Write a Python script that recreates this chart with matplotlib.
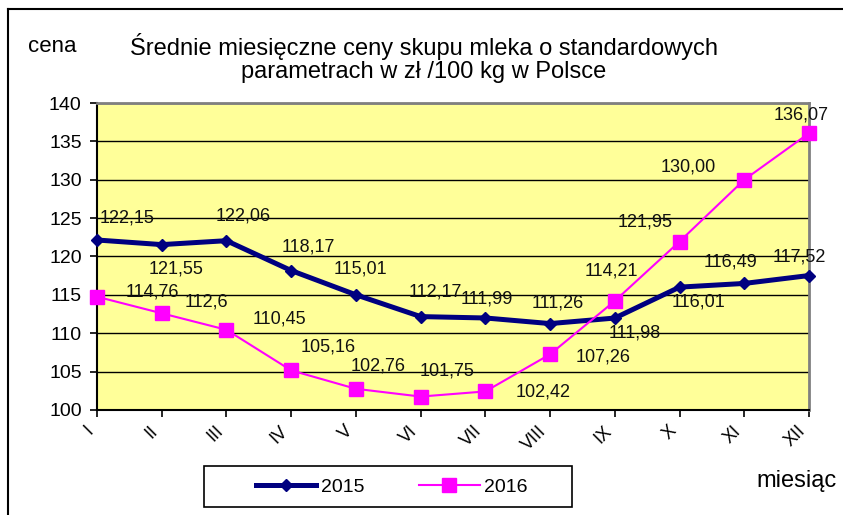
import matplotlib
matplotlib.use("Agg")
import matplotlib.pyplot as plt
from matplotlib.patches import Rectangle
from matplotlib.lines import Line2D

plt.rcParams['font.family'] = ['Liberation Sans', 'DejaVu Sans']

months = ["I", "II", "III", "IV", "V", "VI", "VII", "VIII", "IX", "X", "XI", "XII"]
y2015 = [122.15, 121.55, 122.06, 118.17, 115.01, 112.17, 111.99, 111.26, 111.98, 116.01, 116.49, 117.52]
y2016 = [114.76, 112.6, 110.45, 105.16, 102.76, 101.75, 102.42, 107.26, 114.21, 121.95, 130.00, 136.07]
labels2015 = ["122,15", "121,55", "122,06", "118,17", "115,01", "112,17", "111,99", "111,26", "111,98", "116,01", "116,49", "117,52"]
labels2016 = ["114,76", "112,6", "110,45", "105,16", "102,76", "101,75", "102,42", "107,26", "114,21", "121,95", "130,00", "136,07"]
yticks = [100, 105, 110, 115, 120, 125, 130, 135, 140]

# label offsets in pixels (dx, dy up)
off2015 = [(30, 22), (14, -24), (17, 25), (17, 24), (5, 26), (15, 25), (1, 19), (8, 21), (20, -15), (19, -15), (-14, 21), (-10, 19)]
off2016 = [(55, 5), (45, 11), (53, 11), (37, 23), (22, 23), (26, 26), (58, -1), (53, -3), (-3, 30), (-34, 20), (-56, 13), (-8, 18)]

W, H = 843, 515
fig = plt.figure(figsize=(W / 100, H / 100), dpi=100)
fig.patch.set_facecolor('white')

ax = fig.add_axes([97 / W, 1 - 410 / H, 712 / W, 307 / H])
ax.set_facecolor('#FFFF99')
x = list(range(len(months)))

ax.set_xlim(0, len(months) - 1)
ax.set_ylim(100, 140)
ax.set_yticks(yticks)
ax.yaxis.grid(True, color='black', linewidth=1.0)
ax.set_axisbelow(True)

l1, = ax.plot(x, y2015, color='#000080', linewidth=3.6, marker='D', markersize=6.5,
              label='2015', zorder=3, clip_on=False)
l2, = ax.plot(x, y2016, color='#FF00FF', linewidth=1.5, marker='s', markersize=10,
              label='2016', zorder=4, clip_on=False)

for xi, yi, t, (dx, dy) in zip(x, y2015, labels2015, off2015):
    ax.annotate(t, (xi, yi), xytext=(dx, dy), textcoords='offset pixels',
                ha='center', va='center', fontsize=13, color='#111111', zorder=5,
                annotation_clip=False)
for xi, yi, t, (dx, dy) in zip(x, y2016, labels2016, off2016):
    ax.annotate(t, (xi, yi), xytext=(dx, dy), textcoords='offset pixels',
                ha='center', va='center', fontsize=13, color='#111111', zorder=5,
                annotation_clip=False)

ax.set_xticks(x)
ax.set_xticklabels(months, rotation=45, ha='right', va='top', fontsize=13)
ax.tick_params(axis='x', direction='out', length=5, width=1.2, pad=4)
ax.tick_params(axis='y', direction='out', length=5, width=1.2, pad=6, labelsize=14)

for s in ['left', 'bottom']:
    ax.spines[s].set_color('black')
    ax.spines[s].set_linewidth(1.5)
for s in ['top', 'right']:
    ax.spines[s].set_color('#808080')
    ax.spines[s].set_linewidth(2)

# titles
fig.text(424 / W, 1 - 47 / H, "Średnie miesięczne ceny skupu mleka o standardowych",
         ha='center', va='center', fontsize=17)
fig.text(424 / W, 1 - 72 / H, "parametrach w zł /100 kg w Polsce",
         ha='center', va='center', fontsize=17)
fig.text(28 / W, 1 - 47 / H, "cena", ha='left', va='center', fontsize=16)
fig.text(756 / W, 1 - 481 / H, "miesiąc", ha='left', va='center', fontsize=17)

# figure border
fig.add_artist(Line2D([8 / W, 8 / W], [0, 1 - 9 / H], transform=fig.transFigure,
                      color='black', linewidth=1.5))
fig.add_artist(Line2D([8 / W, 1], [1 - 9 / H, 1 - 9 / H], transform=fig.transFigure,
                      color='black', linewidth=1.5))

# legend box
fig.add_artist(Rectangle((204 / W, 1 - 507 / H), 368 / W, 41 / H, transform=fig.transFigure,
                         facecolor='white', edgecolor='black', linewidth=1.2))
fig.legend(handles=[l1, l2], labels=['2015', '2016'], loc='center',
           bbox_to_anchor=(392 / W, 1 - 487 / H), ncol=2, frameon=False,
           fontsize=14, handlelength=3.1, handletextpad=0.25, columnspacing=2.8)

fig.savefig('out.png', dpi=100)
